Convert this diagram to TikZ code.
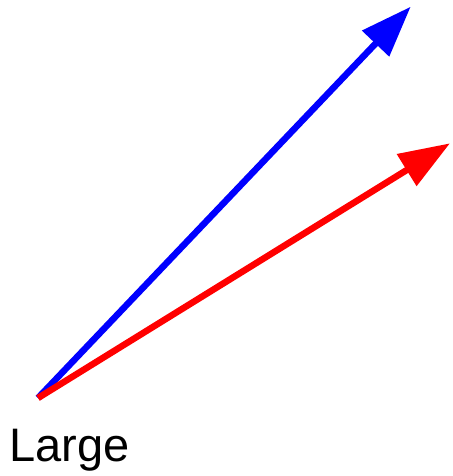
\documentclass[tikz,border=0pt]{standalone}
\usepackage{fontspec}
\setmainfont{Liberation Sans}
\usetikzlibrary{arrows.meta}
\begin{document}
\begin{tikzpicture}[x=1pt,y=1pt,
  vec/.style={line width=6.5pt, -{Triangle[length=51pt,width=36pt]}}]
\useasboundingbox (0,0) rectangle (452,476);
\coordinate (o) at (38,78);
\coordinate (b) at (410.7,469.3);
\coordinate (r) at (450,332.7);
\draw[vec, blue] (o) -- (b);
\draw[vec, red] (o) -- (r);
\node[anchor=base west, inner sep=0pt, font=\fontsize{47}{50}\selectfont] (lbl) at (9,14) {Large};
\end{tikzpicture}
\end{document}
